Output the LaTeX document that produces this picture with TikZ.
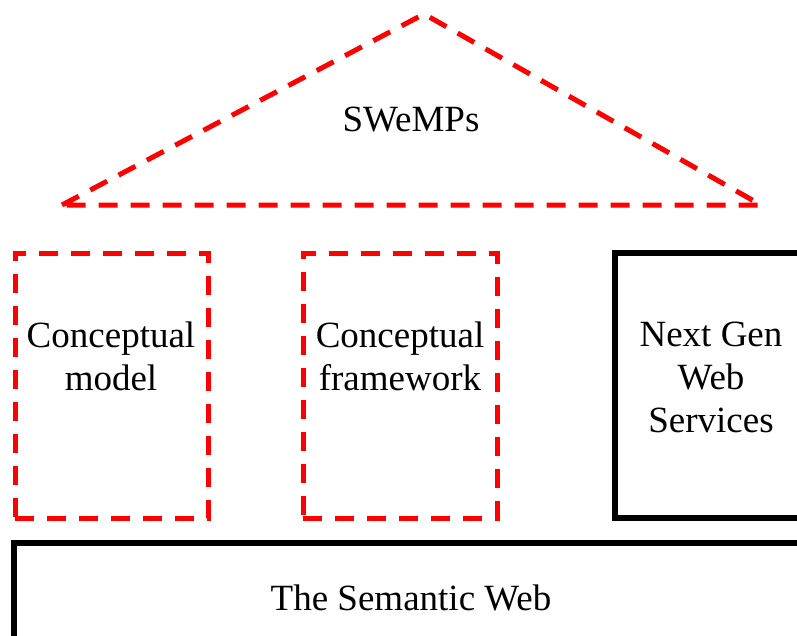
\documentclass[tikz,border=0pt]{standalone}
\usepackage{fontspec}
\setmainfont{Liberation Serif}
\begin{document}
\begin{tikzpicture}[x=1pt,y=-1pt,
  reddash/.style={draw=red, line width=5pt, dash pattern=on 19pt off 13pt},
  redbox/.style={reddash, rectangle, inner sep=0pt},
  blackbox/.style={draw=black, line width=5.5pt, rectangle, inner sep=0pt},
  lbl/.style={align=center, inner sep=0pt, font=\fontsize{37}{43}\selectfont}]
  \useasboundingbox (0,0) rectangle (797,635);
  \clip (0,0) rectangle (797,635);

  % roof
  \coordinate (apex) at (424,14);
  \coordinate (roofL) at (62,205);
  \coordinate (roofR) at (761,205);
  \draw[reddash, line join=miter]
    (roofL) -- (apex) -- (roofR) -- cycle;
  \node[lbl] (swemps) at (411,120) {SWeMPs};

  % pillars
  \node[redbox, minimum width=193pt, minimum height=265pt] (model) at (111.5,385.5) {};
  \node[lbl] at (111,356) {Conceptual\\model};

  \node[redbox, minimum width=194pt, minimum height=265pt] (frame) at (400,385.5) {};
  \node[lbl] at (400,356) {Conceptual\\framework};

  \node[blackbox, minimum width=220pt, minimum height=265pt] (ngws) at (725,385.5) {};
  \node[lbl] at (711,377) {Next Gen\\Web\\Services};

  % foundation
  \node[blackbox, minimum width=820pt, minimum height=120pt] (sw) at (424,603) {};
  \node[lbl] at (411,598) {The Semantic Web};
\end{tikzpicture}
\end{document}
